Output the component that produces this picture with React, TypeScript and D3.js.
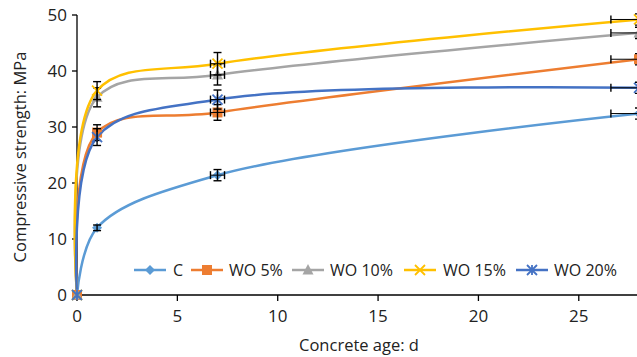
import React from "react";
import * as d3 from "d3";

const width = 637;
const height = 357;
const margin = { top: 15, right: -2, bottom: 62, left: 77 };

// concrete age in days
const ages = [0, 1, 7, 28];

const seriesNames = ["C", "WO 5%", "WO 10%", "WO 15%", "WO 20%"];
const colors = ["#5B9BD5", "#ED7D31", "#A5A5A5", "#FFC000", "#4472C4"];
const markers = ["diamond", "square", "triangle", "x", "star"];

const strengthC = [0, 12.0, 21.4, 32.4];
const strengthWO5 = [0, 29.0, 32.6, 42.1];
const strengthWO10 = [0, 35.3, 39.3, 46.8];
const strengthWO15 = [0, 36.5, 41.3, 49.2];
const strengthWO20 = [0, 28.2, 34.9, 37.0];

const errC = [0, 0.5, 1.0, 1.0];
const errWO5 = [0, 1.4, 1.4, 1.0];
const errWO10 = [0, 1.7, 1.8, 1.0];
const errWO15 = [0, 1.6, 2.0, 1.0];
const errWO20 = [0, 1.5, 1.7, 1.0];

const yTicks = [0, 10, 20, 30, 40, 50];
const xTicks = [0, 5, 10, 15, 20, 25];

const allValues = [strengthC, strengthWO5, strengthWO10, strengthWO15, strengthWO20];
const allErrors = [errC, errWO5, errWO10, errWO15, errWO20];

const font = "'Open Sans', 'DejaVu Sans', sans-serif";

function Marker({ type, x, y, color }: { type: string; x: number; y: number; color: string }) {
  const s = 5;
  if (type === "diamond") {
    return <path d={`M${x},${y - s}L${x + s},${y}L${x},${y + s}L${x - s},${y}Z`} fill={color} />;
  }
  if (type === "square") {
    return <rect x={x - s} y={y - s} width={s * 2} height={s * 2} fill={color} />;
  }
  if (type === "triangle") {
    return <path d={`M${x},${y - s - 1}L${x + s + 0.5},${y + s - 0.5}L${x - s - 0.5},${y + s - 0.5}Z`} fill={color} />;
  }
  if (type === "x") {
    return (
      <path
        d={`M${x - s},${y - s}L${x + s},${y + s}M${x - s},${y + s}L${x + s},${y - s}`}
        stroke={color}
        strokeWidth={1.8}
      />
    );
  }
  return (
    <path
      d={`M${x - s},${y - s}L${x + s},${y + s}M${x - s},${y + s}L${x + s},${y - s}M${x},${y - s}L${x},${y + s}`}
      stroke={color}
      strokeWidth={1.8}
    />
  );
}

export default function App() {
  const xScale = d3
    .scaleLinear()
    .domain([0, 28])
    .range([margin.left, width - margin.right]);
  const yScale = d3
    .scaleLinear()
    .domain([0, 50])
    .range([height - margin.bottom, margin.top]);

  const line = d3
    .line<number>()
    .x((d, i) => xScale(ages[i]))
    .y((d) => yScale(d))
    .curve(d3.curveCatmullRom.alpha(0.5));

  const x0 = margin.left;
  const y0 = height - margin.bottom;

  const legendY = 270;
  const legendItems = [
    { lx: 134, tx: 173 },
    { lx: 191, tx: 229 },
    { lx: 292, tx: 330 },
    { lx: 404, tx: 443 },
    { lx: 516, tx: 554 },
  ];

  return (
    <svg
      width={width}
      height={height}
      style={{ position: "absolute", left: 0, top: 0, background: "#fff" }}
      fontFamily={font}
    >
      {/* axes */}
      <line x1={x0} x2={x0} y1={margin.top} y2={y0} stroke="#000" strokeWidth={1.3} />
      <line x1={x0} x2={width} y1={y0} y2={y0} stroke="#000" strokeWidth={1.3} />
      {yTicks.map((t) => (
        <g key={"y" + t}>
          <line x1={x0 - 5} x2={x0} y1={yScale(t)} y2={yScale(t)} stroke="#000" strokeWidth={1.3} />
          <text x={x0 - 10} y={yScale(t)} dy="0.35em" textAnchor="end" fontSize={17} fill="#222">
            {t}
          </text>
        </g>
      ))}
      {xTicks.map((t) => (
        <g key={"x" + t}>
          <line x1={xScale(t)} x2={xScale(t)} y1={y0} y2={y0 + 6} stroke="#000" strokeWidth={1.3} />
          <text x={xScale(t)} y={316} dy="0.35em" textAnchor="middle" fontSize={17} fill="#222">
            {t}
          </text>
        </g>
      ))}
      <text x={359} y={345} dy="0.35em" textAnchor="middle" fontSize={16.5} fill="#222">
        Concrete age: d
      </text>
      <text
        transform={`translate(20,157) rotate(-90)`}
        dy="0.35em"
        textAnchor="middle"
        fontSize={16.5}
        fill="#222"
      >
        Compressive strength: MPa
      </text>

      {/* series lines */}
      {allValues.map((vals, si) => (
        <path key={"l" + si} d={line(vals) || ""} fill="none" stroke={colors[si]} strokeWidth={2.5} />
      ))}
      {/* markers then error bars, series by series */}
      {allValues.map((vals, si) => (
        <g key={"s" + si}>
          {vals.map((v, i) => (
            <Marker key={"m" + i} type={markers[si]} x={xScale(ages[i])} y={yScale(v)} color={colors[si]} />
          ))}
          {vals.map((v, i) => {
            if (i === 0) return null;
            const cx = xScale(ages[i]);
            const yt = yScale(v + allErrors[si][i]);
            const yb = yScale(v - allErrors[si][i]);
            const cy = yScale(v);
            const xl = xScale(ages[i] * 0.95);
            const xr = xScale(ages[i] * 1.05);
            return (
              <g key={"e" + i} stroke="#000" strokeWidth={1.4}>
                <line x1={cx} x2={cx} y1={yt} y2={yb} />
                <line x1={cx - 4} x2={cx + 4} y1={yt} y2={yt} />
                <line x1={cx - 4} x2={cx + 4} y1={yb} y2={yb} />
                {i > 1 && (
                  <>
                    <line x1={xl} x2={xr} y1={cy} y2={cy} strokeWidth={1} />
                    <line x1={xl} x2={xl} y1={cy - 4} y2={cy + 4} />
                    <line x1={xr} x2={xr} y1={cy - 4} y2={cy + 4} />
                  </>
                )}
              </g>
            );
          })}
        </g>
      ))}

      {/* legend */}
      {seriesNames.map((name, si) => {
        const it = legendItems[si];
        return (
          <g key={"lg" + si}>
            <line x1={it.lx} x2={it.lx + 32} y1={legendY} y2={legendY} stroke={colors[si]} strokeWidth={2.5} />
            <Marker type={markers[si]} x={it.lx + 16} y={legendY} color={colors[si]} />
            <text x={it.tx} y={legendY} dy="0.35em" fontSize={16} fill="#222">
              {name}
            </text>
          </g>
        );
      })}
    </svg>
  );
}
